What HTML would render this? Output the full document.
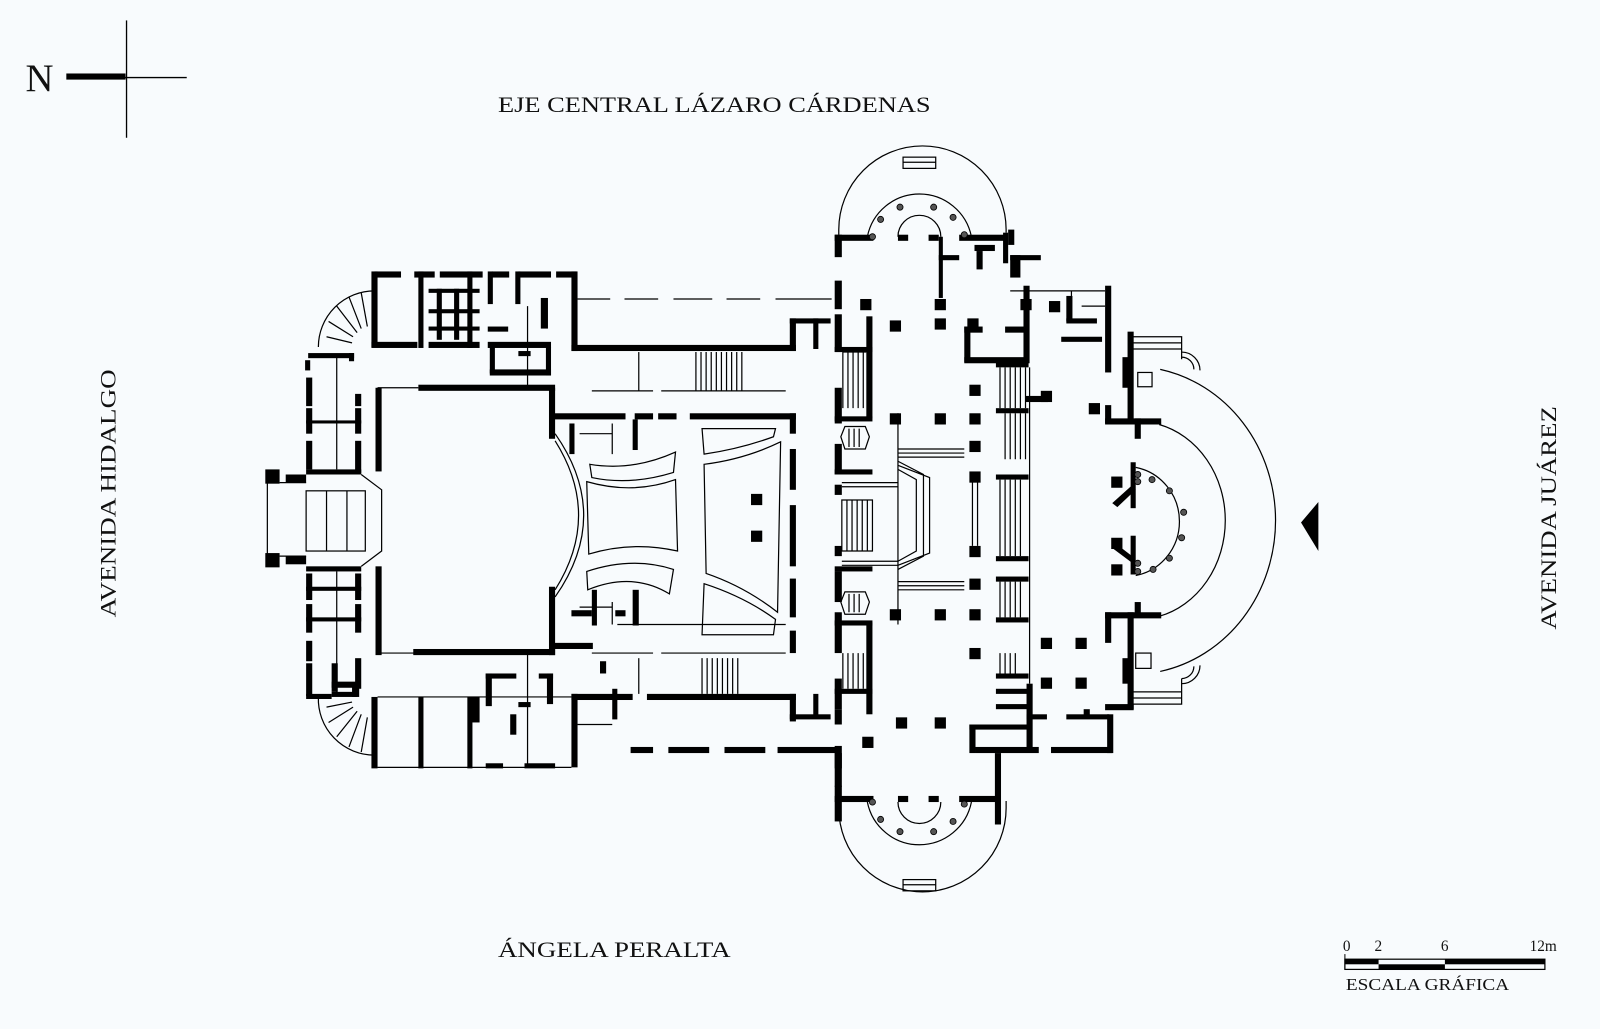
<!DOCTYPE html>
<html><head><meta charset="utf-8"><style>
html,body{margin:0;padding:0;background:#f8fbfd;}
svg{display:block;}
text{font-family:"Liberation Serif",serif;fill:#111;}
</style></head><body>
<svg width="1600" height="1029" viewBox="0 0 1568 1008.4" xmlns="http://www.w3.org/2000/svg">
<rect x="0" y="0" width="1568" height="1009" fill="#f8fbfd"/>
<!-- North -->
<text x="25" y="89" font-size="38">N</text>
<rect x="65" y="72" width="58" height="6" fill="#000"/>
<line x1="122" y1="76" x2="183" y2="76" stroke="#000" stroke-width="1.3"/>
<line x1="124" y1="20" x2="124" y2="135" stroke="#000" stroke-width="1.3"/>
<!-- Street labels -->
<text x="488" y="110" font-size="22" textLength="424" lengthAdjust="spacingAndGlyphs">EJE CENTRAL LÁZARO CÁRDENAS</text>
<text x="488" y="938" font-size="22" textLength="228" lengthAdjust="spacingAndGlyphs">ÁNGELA PERALTA</text>
<text transform="translate(113,605) rotate(-90)" font-size="22" textLength="243" lengthAdjust="spacingAndGlyphs">AVENIDA HIDALGO</text>
<text transform="translate(1525,617) rotate(-90)" font-size="22" textLength="219" lengthAdjust="spacingAndGlyphs">AVENIDA JUÁREZ</text>
<!-- Scale -->
<text x="1316" y="932" font-size="15">0</text>
<text x="1347" y="932" font-size="15">2</text>
<text x="1412" y="932" font-size="15">6</text>
<text x="1499" y="932" font-size="15">12m</text>
<rect x="1318" y="940" width="196" height="10" fill="none" stroke="#000" stroke-width="1.2"/>
<rect x="1318" y="940" width="33" height="5" fill="#000"/>
<rect x="1351" y="945" width="65" height="5" fill="#000"/>
<rect x="1416" y="940" width="98" height="5" fill="#000"/>
<line x1="1318" y1="935" x2="1318" y2="950" stroke="#000"/>
<text x="1319" y="970" font-size="17" textLength="160" lengthAdjust="spacingAndGlyphs">ESCALA GRÁFICA</text>
<!-- Entrance triangle -->
<polygon points="1275,512 1292,492 1292,540" fill="#000"/>

<g fill="#000">
<!-- top-left block -->
<rect x="367" y="266" width="26" height="6"/><rect x="406" y="266" width="20" height="6"/><rect x="431" y="266" width="42" height="6"/>
<rect x="482" y="266" width="17" height="6"/><rect x="508" y="266" width="32" height="6"/><rect x="545" y="266" width="20" height="6"/>
<rect x="364" y="266" width="6" height="74"/>
<rect x="364" y="335" width="45" height="6"/><rect x="420" y="335" width="50" height="6"/><rect x="478" y="335" width="62" height="6"/>
<rect x="410" y="266" width="5" height="75"/><rect x="458" y="266" width="5" height="75"/><rect x="478" y="266" width="5" height="32"/><rect x="505" y="266" width="5" height="32"/>
<rect x="420" y="283" width="50" height="4"/><rect x="420" y="303" width="50" height="4"/><rect x="420" y="320" width="50" height="4"/>
<rect x="428" y="283" width="5" height="50"/><rect x="445" y="283" width="5" height="50"/>
<rect x="478" y="320" width="20" height="5"/><rect x="530" y="292" width="7" height="30"/>
<rect x="480" y="340" width="5" height="26"/><rect x="480" y="362" width="60" height="6"/><rect x="535" y="340" width="5" height="28"/><rect x="508" y="344" width="12" height="5"/>
<rect x="560" y="266" width="6" height="78"/>
<rect x="560" y="338" width="220" height="6"/>
<rect x="774" y="312" width="6" height="32"/><rect x="774" y="312" width="40" height="5"/><rect x="797" y="312" width="5" height="30"/>
<!-- left corridor / dashed walls -->
<rect x="302" y="346" width="45" height="5"/><rect x="342" y="346" width="5" height="8"/>
<rect x="299" y="353" width="5" height="10"/>
<rect x="300" y="370" width="6" height="28"/><rect x="300" y="400" width="6" height="25"/><rect x="300" y="432" width="6" height="28"/>
<rect x="348" y="386" width="6" height="12"/><rect x="348" y="400" width="6" height="25"/><rect x="348" y="432" width="6" height="32"/>
<rect x="300" y="412" width="54" height="3"/><rect x="300" y="460" width="54" height="5"/>
<rect x="300" y="555" width="54" height="5"/>
<rect x="300" y="562" width="6" height="26"/><rect x="300" y="592" width="6" height="28"/><rect x="300" y="628" width="6" height="20"/>
<rect x="348" y="562" width="6" height="26"/><rect x="348" y="592" width="6" height="28"/><rect x="348" y="645" width="6" height="30"/>
<rect x="300" y="575" width="54" height="4"/><rect x="300" y="605" width="54" height="4"/>
<rect x="300" y="650" width="6" height="32"/><rect x="325" y="650" width="6" height="28"/><rect x="325" y="668" width="25" height="6"/><rect x="325" y="678" width="25" height="5"/>
<!-- west entrance -->
<rect x="260" y="460" width="14" height="14"/><rect x="260" y="542" width="14" height="14"/><rect x="280" y="465" width="20" height="8"/><rect x="280" y="545" width="20" height="8"/>
<!-- stage box -->
<rect x="368" y="380" width="6" height="82"/><rect x="368" y="555" width="6" height="87"/>
<rect x="410" y="377" width="134" height="6"/><rect x="405" y="636" width="139" height="6"/>
<rect x="538" y="380" width="6" height="50"/><rect x="538" y="575" width="6" height="67"/>
<!-- auditorium -->
<rect x="541" y="405" width="72" height="6"/><rect x="622" y="405" width="18" height="6"/><rect x="645" y="405" width="18" height="6"/><rect x="676" y="405" width="104" height="6"/>
<rect x="774" y="405" width="6" height="20"/><rect x="774" y="440" width="6" height="40"/><rect x="774" y="495" width="6" height="60"/><rect x="774" y="567" width="6" height="38"/><rect x="774" y="618" width="6" height="22"/>
<rect x="558" y="415" width="5" height="30"/><rect x="580" y="578" width="5" height="35"/><rect x="620" y="411" width="5" height="30"/><rect x="620" y="578" width="6" height="35"/>
<rect x="541" y="630" width="40" height="6"/><rect x="560" y="598" width="20" height="6"/><rect x="603" y="598" width="10" height="6"/>
<rect x="736" y="484" width="11" height="11"/><rect x="736" y="520" width="11" height="11"/>
<!-- lower left -->
<rect x="560" y="680" width="60" height="6"/><rect x="634" y="680" width="146" height="6"/>
<rect x="560" y="680" width="6" height="72"/><rect x="600" y="675" width="5" height="30"/><rect x="588" y="648" width="6" height="12"/>
<rect x="774" y="680" width="6" height="27"/><rect x="774" y="700" width="40" height="5"/><rect x="797" y="680" width="5" height="24"/>
<rect x="618" y="732" width="22" height="6"/><rect x="655" y="732" width="40" height="6"/><rect x="710" y="732" width="40" height="6"/><rect x="762" y="732" width="60" height="6"/>
<rect x="364" y="683" width="6" height="70"/><rect x="410" y="683" width="5" height="70"/><rect x="458" y="683" width="5" height="70"/><rect x="460" y="683" width="10" height="25"/>
<rect x="476" y="660" width="6" height="32"/><rect x="476" y="660" width="30" height="5"/><rect x="500" y="700" width="6" height="20"/><rect x="528" y="660" width="14" height="5"/><rect x="536" y="660" width="6" height="30"/>
<rect x="508" y="688" width="12" height="5"/>
<rect x="476" y="748" width="17" height="5"/><rect x="514" y="748" width="30" height="5"/>
<!-- left bottom/top quarter stairs edges -->
<rect x="300" y="680" width="25" height="5"/><rect x="345" y="673" width="7" height="10"/>
</g>

<g fill="none" stroke="#000" stroke-width="1.2">
<!-- stairs quarter circles -->
<path d="M312,340 A55,55 0 0 1 367,285"/>
<path d="M312,683 A55,55 0 0 0 367,740"/>
<path d="M320,330 L345,336 M322,315 L346,330 M330,300 L350,326 M342,291 L354,322 M354,287 L360,320"/>
<path d="M320,693 L345,688 M322,708 L346,693 M330,722 L350,697 M342,732 L354,700 M354,737 L360,703"/>
<!-- corridors thin lines -->
<path d="M566,293 L598,293 M612,293 L645,293 M660,293 L698,293 M712,293 L745,293 M760,293 L815,293"/>
<path d="M580,383 L640,383 M648,383 L770,383"/>
<path d="M626,345 L626,383"/>
<path d="M580,640 L640,640 M648,640 L770,640"/>
<path d="M626,645 L626,680"/>
<path d="M517,300 L517,380 M517,640 L517,752"/>
<path d="M566,710 L600,710"/>
<path d="M370,683 L560,683 M370,752 L560,752"/>
<path d="M370,380 L410,380 M370,640 L410,640"/>
<path d="M330,350 L330,460 M330,560 L330,680"/>
<!-- stairs in corridors -->
<path d="M682,345 L682,383 M687,345 L687,383 M692,345 L692,383 M697,345 L697,383 M702,345 L702,383 M707,345 L707,383 M712,345 L712,383 M717,345 L717,383 M722,345 L722,383 M727,345 L727,383"/>
<path d="M688,645 L688,680 M693,645 L693,680 M698,645 L698,680 M703,645 L703,680 M708,645 L708,680 M713,645 L713,680 M718,645 L718,680 M723,645 L723,680"/>
<!-- west entrance -->
<path d="M262,473 L262,545 M274,473 L300,473 M274,545 L300,545"/>
<rect x="300" y="481" width="58" height="59"/><path d="M320,481 L320,540 M340,481 L340,540"/>
<path d="M354,465 L374,480 L374,540 L354,555"/>
<!-- proscenium -->
<path d="M544,432 Q590,505 544,578"/>
<path d="M544,425 Q600,505 544,585"/>
<!-- seating -->
<path d="M578,455 Q620,462 662,443 L660,463 Q618,476 580,468 Z"/>
<path d="M575,472 Q620,485 662,470 L664,540 Q620,530 577,543 Z"/>
<path d="M575,560 Q620,545 660,558 L656,582 Q620,560 576,578 Z"/>
<path d="M688,420 L760,420 L758,428 Q725,440 690,445 Z"/>
<path d="M690,455 Q730,450 765,433 L762,600 Q730,575 692,562 Z"/>
<path d="M690,572 Q730,585 760,607 L758,622 L688,622 Z"/>
<path d="M568,425 L600,425 M568,595 L600,595 M600,415 L600,445 M600,590 L600,612 M605,612 L770,612"/>
</g>

<!-- central hall -->
<g fill="#000">
<rect x="818" y="230" width="7" height="22"/><rect x="818" y="275" width="7" height="28"/><rect x="818" y="308" width="7" height="37"/>
<rect x="818" y="380" width="7" height="35"/><rect x="818" y="435" width="7" height="30"/><rect x="818" y="475" width="7" height="10"/>
<rect x="818" y="535" width="7" height="10"/><rect x="818" y="560" width="7" height="30"/><rect x="818" y="600" width="7" height="40"/>
<rect x="818" y="665" width="7" height="30"/><rect x="818" y="695" width="7" height="15"/><rect x="818" y="738" width="7" height="15"/><rect x="818" y="770" width="7" height="35"/>
<rect x="849" y="310" width="6" height="100"/><rect x="849" y="610" width="6" height="90"/>
<rect x="818" y="408" width="37" height="5"/><rect x="818" y="608" width="37" height="5"/>
<rect x="818" y="675" width="37" height="5"/><rect x="818" y="340" width="37" height="5"/>
<rect x="818" y="460" width="37" height="5"/><rect x="818" y="555" width="37" height="5"/>
<!-- top rotunda walls -->
<rect x="818" y="230" width="38" height="6"/><rect x="880" y="230" width="10" height="6"/><rect x="910" y="230" width="10" height="6"/><rect x="940" y="230" width="45" height="6"/>
<rect x="983" y="228" width="5" height="30"/>
<rect x="920" y="232" width="4" height="60"/><rect x="920" y="250" width="20" height="5"/><rect x="955" y="240" width="20" height="6"/><rect x="957" y="246" width="6" height="18"/>
<rect x="988" y="225" width="6" height="15"/><rect x="990" y="250" width="30" height="5"/><rect x="990" y="250" width="10" height="22"/>
<!-- bottom rotunda walls -->
<rect x="818" y="780" width="38" height="6"/><rect x="880" y="780" width="10" height="6"/><rect x="910" y="780" width="10" height="6"/><rect x="940" y="780" width="40" height="6"/>
<rect x="975" y="738" width="6" height="70"/><rect x="818" y="731" width="7" height="40"/>
<!-- columns -->
<rect x="843" y="293" width="11" height="11"/><rect x="872" y="314" width="11" height="11"/><rect x="916" y="312" width="11" height="11"/><rect x="916" y="293" width="11" height="11"/>
<rect x="948" y="312" width="11" height="11"/>
<rect x="872" y="405" width="11" height="11"/><rect x="916" y="405" width="11" height="11"/><rect x="950" y="405" width="11" height="11"/>
<rect x="950" y="377" width="11" height="11"/>
<rect x="950" y="432" width="11" height="11"/>
<rect x="950" y="462" width="11" height="11"/><rect x="950" y="535" width="11" height="11"/>
<rect x="950" y="567" width="11" height="11"/><rect x="950" y="597" width="11" height="11"/><rect x="950" y="635" width="11" height="11"/>
<rect x="872" y="597" width="11" height="11"/><rect x="916" y="597" width="11" height="11"/>
<rect x="878" y="703" width="11" height="11"/><rect x="916" y="703" width="11" height="11"/><rect x="845" y="722" width="11" height="11"/>
<rect x="1020" y="625" width="11" height="11"/><rect x="1054" y="625" width="11" height="11"/><rect x="1020" y="664" width="11" height="11"/><rect x="1054" y="664" width="11" height="11"/>
<rect x="1005" y="388" width="22" height="6"/><rect x="1020" y="383" width="11" height="11"/><rect x="1067" y="395" width="11" height="11"/>
<rect x="1000" y="293" width="11" height="11"/><rect x="1028" y="295" width="11" height="11"/>
<!-- right block walls -->
<rect x="945" y="320" width="6" height="35"/><rect x="945" y="350" width="62" height="6"/><rect x="945" y="320" width="18" height="6"/><rect x="985" y="320" width="22" height="6"/>
<rect x="1003" y="280" width="6" height="76"/>
<rect x="976" y="355" width="32" height="5"/><rect x="976" y="400" width="32" height="5"/><rect x="976" y="465" width="32" height="5"/><rect x="976" y="545" width="32" height="5"/>
<rect x="976" y="565" width="32" height="5"/><rect x="976" y="605" width="32" height="5"/><rect x="976" y="660" width="32" height="5"/>
<rect x="976" y="675" width="34" height="5"/><rect x="976" y="690" width="34" height="5"/>
<rect x="1006" y="670" width="6" height="65"/><rect x="1006" y="700" width="20" height="5"/><rect x="1045" y="700" width="42" height="5"/><rect x="1085" y="700" width="6" height="38"/>
<rect x="950" y="710" width="60" height="5"/><rect x="950" y="710" width="6" height="28"/>
<rect x="956" y="732" width="62" height="6"/><rect x="1030" y="732" width="60" height="6"/>
<rect x="1083" y="280" width="6" height="85"/><rect x="1045" y="312" width="30" height="5"/><rect x="1045" y="290" width="6" height="25"/><rect x="1040" y="330" width="40" height="5"/>
<rect x="1083" y="397" width="6" height="18"/><rect x="1083" y="410" width="55" height="6"/><rect x="1112" y="410" width="6" height="20"/>
<rect x="1105" y="325" width="6" height="90"/><rect x="1100" y="350" width="10" height="30"/>
<rect x="1083" y="600" width="55" height="6"/><rect x="1083" y="600" width="6" height="30"/><rect x="1105" y="600" width="6" height="95"/><rect x="1100" y="645" width="10" height="25"/>
<rect x="1083" y="690" width="28" height="6"/><rect x="1062" y="695" width="6" height="6"/>
<rect x="1112" y="590" width="6" height="12"/>
<!-- ring walls -->
<rect x="1108" y="453" width="5" height="45"/><rect x="1108" y="525" width="5" height="38"/>
<rect x="1089" y="467" width="11" height="11"/><rect x="1089" y="527" width="11" height="11"/><rect x="1089" y="553" width="11" height="11"/>
<path d="M1090,493 L1110,475 L1113,480 L1095,497 Z"/>
<path d="M1090,530 L1112,547 L1110,552 L1090,537 Z"/>
</g>

<g fill="none" stroke="#000" stroke-width="1.2">
<!-- top rotunda -->
<path d="M822,230 L822,225 A82,82 0 0 1 986,225 L986,228"/>
<rect x="885" y="154" width="32" height="11"/><line x1="885" y1="159" x2="917" y2="159"/>
<path d="M850,232 A52,52 0 0 1 952,232"/>
<path d="M880,232 A21,21 0 0 1 922,232"/>
<!-- bottom rotunda -->
<path d="M822,784 L822,792 A82,82 0 0 0 986,792 L986,785"/>
<rect x="885" y="862" width="32" height="11"/><line x1="885" y1="867" x2="917" y2="867"/>
<path d="M850,786 A52,52 0 0 0 952,786"/>
<path d="M880,786 A21,21 0 0 0 922,786"/>
<!-- central stairs -->
<path d="M826,345 L826,400 M826,345 L849,345 M831,345 L831,400 M836,345 L836,400 M841,345 L841,400 M846,345 L846,400"/>
<path d="M826,640 L826,675 M831,640 L831,675 M836,640 L836,675 M841,640 L841,675 M846,640 L846,675"/>
<path d="M828,418 L848,418 L852,428 L848,440 L828,440 L824,428 Z M832,420 L832,438 M837,420 L837,438 M842,420 L842,438"/>
<path d="M828,580 L848,580 L852,590 L848,602 L828,602 L824,590 Z M832,582 L832,600 M837,582 L837,600 M842,582 L842,600"/>
<path d="M825,490 L855,490 L855,540 L825,540 Z M830,490 L830,540 M835,490 L835,540 M840,490 L840,540 M845,490 L845,540 M850,490 L850,540"/>
<path d="M825,473 L880,473 M825,477 L880,477 M825,550 L880,550 M825,554 L880,554"/>
<line x1="880" y1="405" x2="880" y2="612"/>
<path d="M880,440 L945,440 M880,444 L945,444 M880,448 L945,448 M880,570 L945,570 M880,574 L945,574 M880,578 L945,578"/>
<path d="M880,452 L905,465 L905,545 L880,558 M880,460 L898,470 L898,540 L880,550 M880,456 L911,468 L911,542 L880,554"/>
<path d="M953,472 L953,535 M958,472 L958,535"/>
<path d="M980,470 L980,545 M985,470 L985,545 M990,470 L990,545 M995,470 L995,545 M1000,470 L1000,545"/>
<path d="M980,360 L980,400 M985,360 L985,400 M990,360 L990,400 M995,360 L995,400 M1000,360 L1000,400 M1005,360 L1005,400"/>
<path d="M985,405 L985,450 M990,405 L990,450 M995,405 L995,450 M1000,405 L1000,450 M1005,405 L1005,450"/>
<path d="M980,570 L980,605 M985,570 L985,605 M990,570 L990,605 M995,570 L995,605 M1000,570 L1000,605"/>
<path d="M980,640 L980,660 M985,640 L985,660 M990,640 L990,660 M995,640 L995,660"/>
<line x1="1009" y1="360" x2="1009" y2="670"/>
<path d="M990,285 L1083,285 M1050,285 L1050,315 M1060,300 L1083,300"/>
<!-- right entrance arcs -->
<path d="M1137,362 A141,151 0 0 1 1137,658"/>
<path d="M1136,416 A86,97 0 0 1 1136,604"/>
<path d="M1113,458 A53,54 0 0 1 1113,564"/>
<rect x="1115" y="365" width="14" height="14"/><rect x="1113" y="640" width="15" height="15"/>
<path d="M1110,330 L1158,330 L1158,352 M1110,336 L1158,336 M1110,342 L1158,342"/>
<path d="M1110,690 L1158,690 L1158,665 M1110,684 L1158,684 M1110,678 L1158,678"/>
<path d="M1158,345 A18,18 0 0 1 1176,363 M1158,350 A12,12 0 0 1 1170,362"/>
<path d="M1158,670 A18,18 0 0 0 1176,652 M1158,665 A12,12 0 0 0 1170,653"/>
</g>
<g fill="#555" stroke="#000" stroke-width="0.8">
<circle cx="855" cy="232" r="3"/><circle cx="863" cy="215" r="3"/><circle cx="882" cy="203" r="3"/><circle cx="915" cy="203" r="3"/><circle cx="934" cy="213" r="3"/><circle cx="945" cy="230" r="3"/>
<circle cx="855" cy="786" r="3"/><circle cx="863" cy="803" r="3"/><circle cx="882" cy="815" r="3"/><circle cx="915" cy="815" r="3"/><circle cx="934" cy="805" r="3"/><circle cx="945" cy="788" r="3"/>
<circle cx="1115" cy="465" r="3"/><circle cx="1129" cy="470" r="3"/><circle cx="1146" cy="481" r="3"/><circle cx="1160" cy="502" r="3"/><circle cx="1158" cy="527" r="3"/><circle cx="1146" cy="547" r="3"/><circle cx="1130" cy="558" r="3"/><circle cx="1115" cy="560" r="3"/><circle cx="1115" cy="472" r="3"/><circle cx="1115" cy="552" r="3"/>
</g>
</svg>
</body></html>
